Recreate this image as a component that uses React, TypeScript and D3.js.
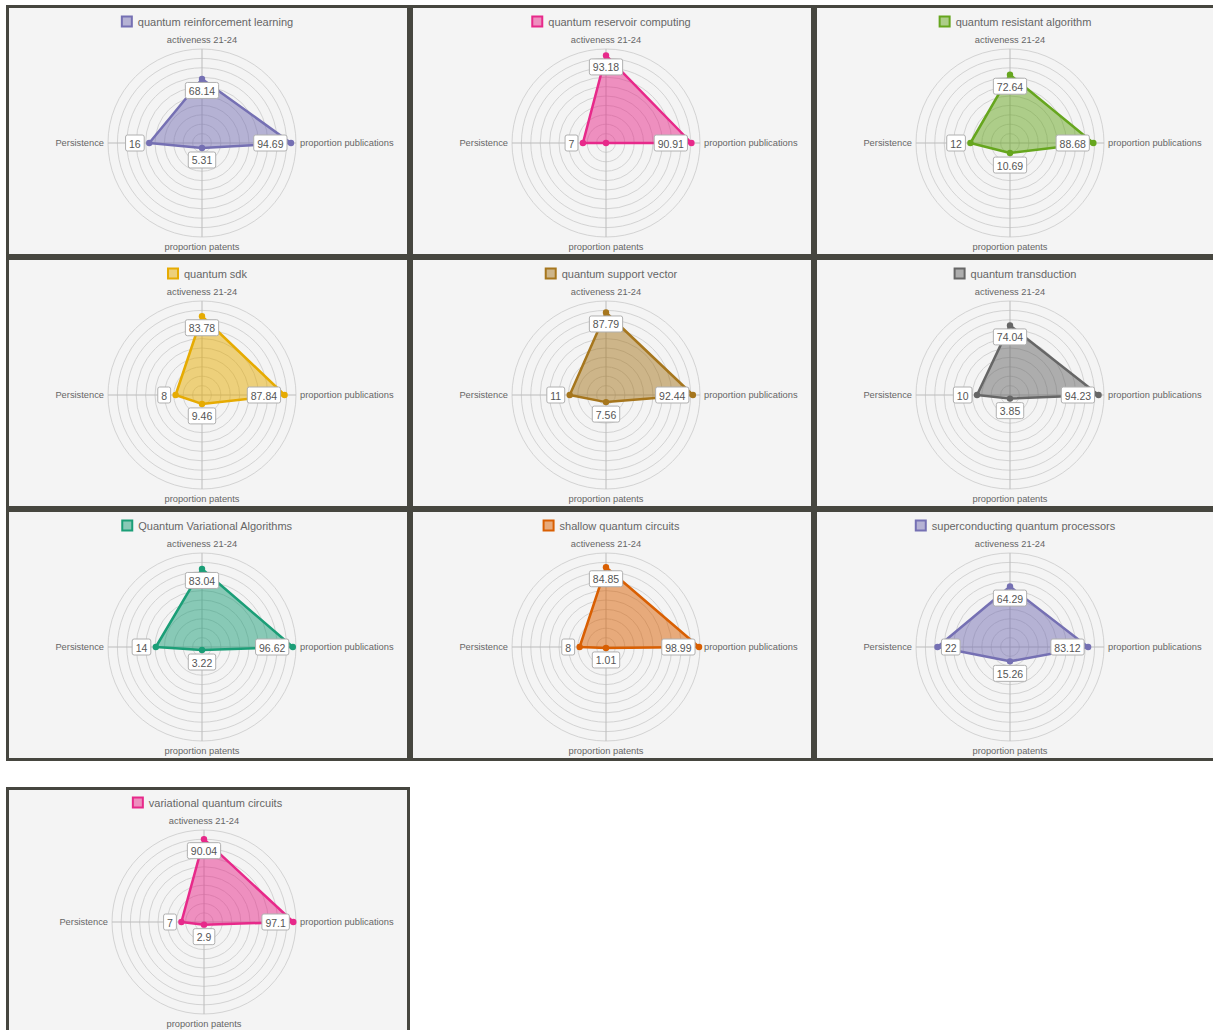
import * as d3 from "d3";

// topics, one radar per topic
const topics = [
  "quantum reinforcement learning",
  "quantum reservoir computing",
  "quantum resistant algorithm",
  "quantum sdk",
  "quantum support vector",
  "quantum transduction",
  "Quantum Variational Algorithms",
  "shallow quantum circuits",
  "superconducting quantum processors",
  "variational quantum circuits",
];

const axisLabels = ["activeness 21-24", "proportion publications", "proportion patents", "Persistence"];

const activeness = [68.14, 93.18, 72.64, 83.78, 87.79, 74.04, 83.04, 84.85, 64.29, 90.04];
const publications = [94.69, 90.91, 88.68, 87.84, 92.44, 94.23, 96.62, 98.99, 83.12, 97.1];
const patents = [5.31, 0, 10.69, 9.46, 7.56, 3.85, 3.22, 1.01, 15.26, 2.9];
const persistence = [16, 7, 12, 8, 11, 10, 14, 8, 22, 7];

// per-axis maximum of the radial scale
const axisMax = [100, 100, 100, 28.5];

const colors = topics.map((_, i) => d3.schemeDark2[(i + 2) % 8]);

const FONT = "Helvetica, Arial, 'Liberation Sans', sans-serif";
const PANEL_W = 404;
const PANEL_H = 252;
const colX = [6, 410, 814];
const rowY = [5, 257, 509, 787];

let ctx: CanvasRenderingContext2D | null = null;
function textWidth(s: string, size: number) {
  if (!ctx) ctx = document.createElement("canvas").getContext("2d");
  if (!ctx) return s.length * size * 0.55;
  ctx.font = `${size}px ${FONT}`;
  return ctx.measureText(s).width;
}

function RadarPanel({ i }: { i: number }) {
  const px = colX[i % 3];
  const py = rowY[Math.floor(i / 3)];
  const last = i === 9;
  // the lone last panel is laid out a touch tighter
  const R = last ? 92 : 94;
  const cx = px + (last ? 198 : 196);
  const cy = py + (last ? 135 : 138);
  const color = colors[i];
  const values = [activeness[i], publications[i], patents[i], persistence[i]];
  const scales = axisMax.map((m) => d3.scaleLinear().domain([0, m]).range([0, R]));
  const ringScale = d3.scaleLinear().domain([0, 100]).range([0, R]);
  const rings = ringScale.ticks(10).filter((t) => t > 0);
  const angle = (k: number) => (k * Math.PI) / 2;

  const line = d3
    .lineRadial<number>()
    .angle((_, k) => angle(k))
    .radius((v, k) => scales[k](v))
    .curve(d3.curveLinearClosed);

  const pts = values.map((v, k) => {
    const r = scales[k](v);
    return { x: cx + r * Math.sin(angle(k)), y: cy - r * Math.cos(angle(k)), v };
  });

  const fill = d3.color(color)!.copy({ opacity: 0.5 }).toString();

  const legendW = textWidth(topics[i], 11);
  const lx = px + 201 - (12 + 5 + legendW) / 2;
  const ly = py + (last ? 15.5 : 16.5);

  const boxH = 16;

  return (
    <g>
      <rect x={px + 1.5} y={py + 1.5} width={PANEL_W - 3} height={PANEL_H - 3} fill="#f4f4f4" stroke="#46463f" strokeWidth={3} />
      {/* legend */}
      <rect x={lx + 1} y={ly - 5} width={10} height={10} fill={fill} stroke={color} strokeWidth={2} />
      <text x={lx + 17} y={ly} dominantBaseline="central" fontSize={11} fill="#666" fontFamily={FONT}>
        {topics[i]}
      </text>
      {/* grid */}
      {rings.map((t) => (
        <circle key={t} cx={cx} cy={cy} r={ringScale(t)} fill="none" stroke="#d3d3d3" strokeWidth={1} />
      ))}
      {axisLabels.map((_, k) => (
        <line
          key={k}
          x1={cx}
          y1={cy}
          x2={cx + R * Math.sin(angle(k))}
          y2={cy - R * Math.cos(angle(k))}
          stroke="#bcbcbc"
          strokeWidth={1}
        />
      ))}
      {/* axis labels */}
      <text x={cx} y={cy - R - 9} textAnchor="middle" dominantBaseline="central" fontSize={9.3} fill="#666" fontFamily={FONT}>
        {axisLabels[0]}
      </text>
      <text x={cx + R + 4} y={cy} textAnchor="start" dominantBaseline="central" fontSize={9.3} fill="#666" fontFamily={FONT}>
        {axisLabels[1]}
      </text>
      <text x={cx} y={cy + R + 10} textAnchor="middle" dominantBaseline="central" fontSize={9.3} fill="#666" fontFamily={FONT}>
        {axisLabels[2]}
      </text>
      <text x={cx - R - 4} y={cy} textAnchor="end" dominantBaseline="central" fontSize={9.3} fill="#666" fontFamily={FONT}>
        {axisLabels[3]}
      </text>
      {/* data */}
      <path d={line(values) ?? ""} transform={`translate(${cx},${cy})`} fill={fill} stroke={color} strokeWidth={2.5} strokeLinejoin="round" />
      {pts.map((p, k) => (
        <circle key={k} cx={p.x} cy={p.y} r={3.2} fill={color} />
      ))}
      {pts.map((p, k) => {
        if (p.v === 0) return null;
        const txt = String(p.v);
        const w = textWidth(txt, 10.5) + 7;
        let bx = p.x - w / 2;
        let by = p.y - boxH / 2;
        if (k === 0) by = p.y + 3.5;
        if (k === 1) bx = p.x - 4 - w;
        if (k === 2) by = p.y + 4;
        if (k === 3) {
          bx = p.x - 5 - w;
          if (bx < cx - R) bx = p.x + 4;
        }
        return (
          <g key={"l" + k}>
            <rect x={bx} y={by} width={w} height={boxH} rx={2} fill="#fff" stroke="#b0b0b0" strokeWidth={1} />
            <text x={bx + w / 2} y={by + boxH / 2 + 0.5} textAnchor="middle" dominantBaseline="central" fontSize={10.5} fill="#555" fontFamily={FONT}>
              {txt}
            </text>
          </g>
        );
      })}
    </g>
  );
}

export default function App() {
  return (
    <div style={{ position: "absolute", left: 0, top: 0 }}>
      <svg width={1213} height={1030} style={{ display: "block", background: "#fff" }}>
        {topics.map((_, i) => (
          <RadarPanel key={i} i={i} />
        ))}
      </svg>
    </div>
  );
}
